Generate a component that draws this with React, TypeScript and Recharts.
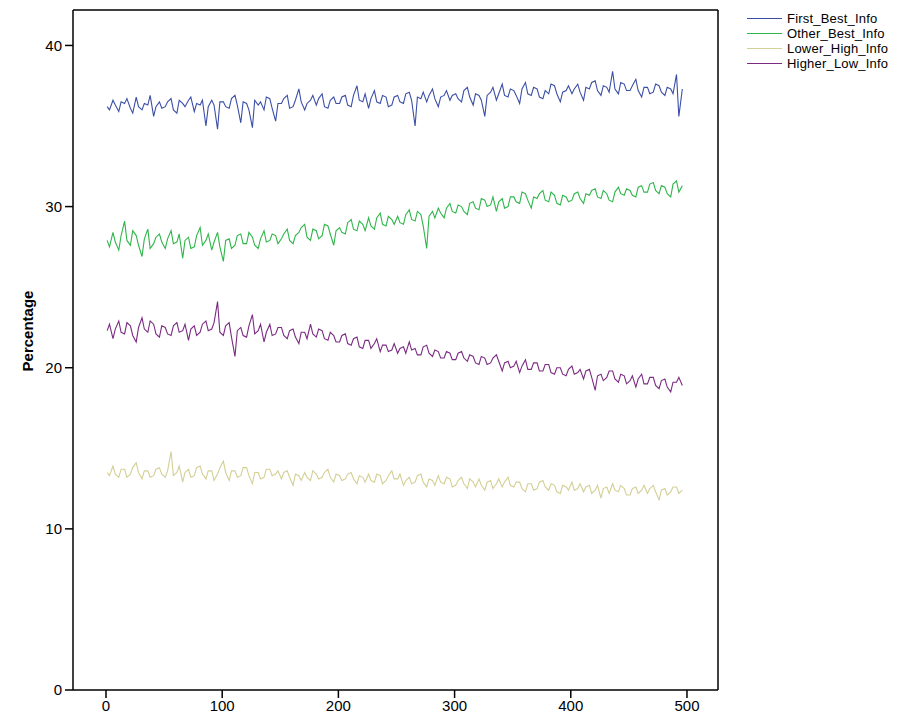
import { LineChart, Line, XAxis, YAxis, Label, ReferenceLine } from "recharts";

// case numbers sampled along the x axis
const cases = [
  1, 3, 6, 8, 11, 13, 16, 18, 21, 23, 26, 28, 31, 33, 36, 38, 41, 43, 46, 48,
  51, 53, 56, 58, 61, 63, 66, 68, 71, 73, 76, 78, 81, 83, 86, 88, 91, 93, 96, 98,
  101, 103, 106, 108, 111, 113, 116, 118, 121, 123, 126, 128, 131, 133, 136, 138, 141, 143, 146, 148,
  151, 153, 156, 158, 161, 163, 166, 168, 171, 173, 176, 178, 181, 183, 186, 188, 191, 193, 196, 198,
  201, 203, 206, 208, 211, 213, 216, 218, 221, 223, 226, 228, 231, 233, 236, 238, 241, 243, 246, 248,
  251, 253, 256, 258, 261, 263, 266, 268, 271, 273, 276, 278, 281, 283, 286, 288, 291, 293, 296, 298,
  301, 303, 306, 308, 311, 313, 316, 318, 321, 323, 326, 328, 331, 333, 336, 338, 341, 343, 346, 348,
  351, 353, 356, 358, 361, 363, 366, 368, 371, 373, 376, 378, 381, 383, 386, 388, 391, 393, 396, 398,
  401, 403, 406, 408, 411, 413, 416, 418, 421, 423, 426, 428, 431, 433, 436, 438, 441, 443, 446, 448,
  451, 453, 456, 458, 461, 463, 466, 468, 471, 473, 476, 478, 481, 483, 486, 488, 491, 493, 496,
];

const firstBest = [
  36.2, 36.0, 36.6, 36.3, 35.9, 36.5, 36.4, 36.7, 36.1, 35.8, 36.8, 36.2, 36.0, 36.4, 36.3, 36.9, 35.6, 36.2, 36.5, 36.1,
  36.2, 36.5, 36.7, 36.0, 35.8, 36.6, 36.4, 36.2, 36.6, 36.8, 35.9, 36.4, 36.3, 36.6, 35.0, 36.2, 36.6, 36.3, 34.8, 36.5,
  36.5, 36.2, 36.1, 36.7, 36.9, 36.3, 35.2, 36.5, 36.4, 36.0, 34.9, 36.6, 36.3, 36.5, 36.0, 36.8, 36.7, 36.1, 35.3, 36.4,
  36.4, 36.7, 36.9, 36.1, 36.2, 36.6, 37.3, 36.5, 36.0, 36.4, 36.6, 36.9, 36.3, 36.7, 37.0, 36.2, 36.1, 36.6, 36.8, 36.4,
  36.4, 36.8, 36.9, 36.3, 36.2, 36.9, 37.5, 36.6, 36.5, 37.0, 36.1, 36.7, 37.2, 36.5, 36.4, 36.9, 36.8, 36.2, 36.3, 36.8,
  36.9, 36.5, 36.4, 37.0, 37.1, 36.6, 35.0, 36.8, 36.7, 37.1, 36.5, 36.9, 37.3, 36.7, 36.2, 36.8, 36.9, 37.2, 36.6, 36.9,
  37.0, 36.7, 36.5, 37.2, 37.4, 36.8, 36.3, 37.0, 36.9, 36.6, 35.6, 36.9, 37.1, 37.4, 36.6, 37.0, 37.6, 36.9, 36.8, 37.3,
  37.2, 36.9, 36.4, 37.3, 37.7, 37.0, 36.9, 37.4, 37.3, 36.8, 36.7, 37.2, 37.0, 37.6, 37.5, 37.0, 36.5, 37.1, 37.2, 37.5,
  37.0, 37.3, 37.6, 37.1, 36.6, 37.4, 37.3, 37.7, 37.8, 37.2, 36.9, 37.5, 37.4, 37.1, 38.4, 37.3, 37.0, 37.7, 37.6, 37.2,
  37.2, 37.5, 37.9, 37.2, 36.8, 37.4, 37.4, 37.0, 37.1, 37.6, 37.5, 37.1, 36.9, 37.4, 37.3, 37.0, 38.2, 35.6, 37.3,
];

const otherBest = [
  27.9, 27.5, 28.4, 27.8, 27.3, 28.2, 29.1, 27.9, 27.6, 28.5, 28.2, 27.6, 26.9, 28.0, 28.6, 27.4, 27.7, 28.1, 28.3, 27.8,
  27.4, 28.0, 28.5, 27.7, 27.8, 28.3, 26.8, 27.9, 28.1, 27.4, 27.5, 28.2, 28.7, 27.6, 27.9, 28.3, 27.3, 27.8, 28.4, 27.5,
  26.6, 27.9, 28.0, 27.4, 27.6, 28.2, 28.3, 27.7, 27.7, 28.4, 28.1, 27.6, 27.4, 28.0, 28.5, 27.8, 27.9, 28.3, 28.2, 27.7,
  28.0, 28.3, 28.6, 27.9, 27.7, 28.2, 28.4, 28.7, 28.9, 28.1, 27.9, 28.6, 28.5, 28.0, 28.2, 28.9, 28.8, 28.3, 27.6, 28.5,
  28.7, 28.4, 28.3, 29.0, 29.2, 28.6, 28.5, 29.1, 28.9, 28.5, 29.3, 28.8, 28.6, 29.3, 29.6, 28.9, 28.8, 29.4, 29.2, 28.9,
  29.4, 29.0, 28.9, 29.5, 29.8, 29.2, 29.1, 29.7, 29.5, 28.8, 27.4, 29.4, 29.7, 29.3, 29.9, 29.6, 29.3, 29.9, 30.2, 29.7,
  29.6, 30.1, 30.0, 29.7, 29.5, 30.2, 30.3, 29.9, 29.8, 30.5, 30.4, 30.0, 30.1, 30.6, 29.7, 30.3, 30.5, 29.9, 30.0, 30.6,
  30.6, 30.3, 30.2, 30.9, 30.8, 30.4, 29.9, 30.6, 30.5, 30.8, 31.0, 30.4, 30.3, 30.9, 30.7, 30.2, 30.1, 30.7, 30.6, 30.3,
  30.4, 30.8, 30.9, 30.5, 30.2, 30.8, 30.7, 31.0, 31.1, 30.6, 30.5, 31.0, 30.8, 30.4, 30.3, 30.9, 31.2, 30.8, 30.7, 31.1,
  31.0, 30.7, 30.6, 31.2, 31.3, 30.9, 30.9, 31.4, 31.5, 31.0, 30.8, 31.3, 31.2, 30.8, 30.6, 31.4, 31.6, 30.9, 31.3,
];

const lowerHigh = [
  13.5, 13.3, 13.9, 13.4, 13.2, 13.7, 13.7, 13.2, 13.4, 13.8, 14.1, 13.5, 13.1, 13.6, 13.6, 13.2, 13.3, 13.7, 13.8, 13.4,
  13.2, 13.6, 14.8, 13.3, 13.5, 13.9, 12.9, 13.5, 13.7, 13.2, 13.3, 13.8, 13.9, 13.4, 13.1, 13.6, 13.6, 13.0, 13.4, 13.8,
  14.2, 13.5, 13.0, 13.6, 13.6, 13.2, 13.3, 13.8, 13.8, 13.3, 12.8, 13.5, 13.5, 13.1, 13.2, 13.7, 13.7, 13.3, 13.4, 13.6,
  13.1, 13.5, 13.6, 13.2, 12.7, 13.4, 13.3, 13.0, 13.5, 13.2, 13.0, 13.6, 13.4, 13.1, 13.2, 13.5, 13.7, 13.2, 12.9, 13.4,
  13.3, 13.0, 13.1, 13.4, 13.5, 13.1, 12.8, 13.3, 13.2, 12.9, 13.4, 13.0, 12.9, 13.4, 13.3, 12.8, 13.0, 13.3, 13.6, 13.1,
  13.1, 13.4, 12.7, 13.0, 13.2, 12.8, 12.9, 13.3, 13.4, 12.9, 12.6, 13.1, 13.0, 12.7, 13.3, 12.9, 12.8, 13.2, 13.1, 12.6,
  12.7, 13.0, 13.2, 12.8, 12.5, 13.1, 12.9, 12.6, 13.1, 12.7, 12.4, 12.9, 13.0, 12.5, 12.8, 13.1, 12.6, 12.9, 13.2, 12.7,
  12.6, 12.9, 12.9, 12.5, 12.3, 12.8, 12.8, 12.4, 12.5, 12.9, 13.0, 12.6, 12.4, 12.8, 12.7, 12.3, 12.2, 12.7, 12.6, 12.4,
  12.9, 12.4, 12.5, 12.8, 12.3, 12.6, 12.7, 12.2, 12.4, 12.7, 11.9, 12.5, 12.6, 12.2, 12.8, 12.4, 12.3, 12.7, 12.5, 12.1,
  12.1, 12.5, 12.6, 12.2, 12.4, 12.7, 12.2, 12.5, 12.7, 12.3, 11.8, 12.4, 12.5, 12.1, 12.3, 12.6, 12.6, 12.2, 12.4,
];

const higherLow = [
  22.3, 22.7, 21.8, 22.4, 22.9, 22.2, 22.1, 22.8, 22.6, 22.0, 21.6, 22.5, 23.1, 22.4, 22.2, 22.9, 22.7, 22.1, 21.9, 22.6,
  22.5, 22.1, 22.0, 22.6, 22.8, 22.2, 22.3, 22.7, 21.7, 22.4, 22.6, 22.0, 22.2, 22.7, 22.9, 22.3, 22.4, 22.8, 24.1, 22.2,
  22.0, 22.6, 22.8, 21.9, 20.7, 22.3, 22.5, 22.0, 21.9, 22.6, 23.3, 22.1, 22.3, 22.7, 21.6, 22.2, 22.7, 22.0, 22.1, 22.5,
  22.5, 22.0, 21.8, 22.3, 22.4, 21.9, 21.5, 22.2, 22.2, 21.8, 22.7, 22.1, 21.9, 22.4, 22.3, 21.8, 21.7, 22.2, 22.0, 21.6,
  21.6, 22.0, 22.1, 21.5, 21.4, 21.8, 21.9, 21.3, 21.2, 21.7, 21.7, 21.2, 21.5, 21.8, 21.0, 21.4, 21.4, 21.0, 21.1, 21.5,
  20.9, 21.2, 21.3, 20.9, 21.6, 21.1, 21.2, 20.8, 20.8, 21.3, 21.4, 20.9, 20.7, 21.1, 21.0, 20.6, 20.6, 21.0, 20.9, 20.5,
  20.5, 20.9, 21.0, 20.6, 20.4, 20.8, 20.7, 20.3, 20.2, 20.7, 20.6, 20.2, 20.3, 20.6, 20.8, 20.4, 19.8, 20.3, 20.4, 20.0,
  20.1, 20.4, 19.7, 20.1, 20.5, 19.9, 19.9, 20.3, 20.3, 19.8, 19.8, 20.2, 20.2, 19.7, 19.6, 20.0, 20.0, 19.6, 19.5, 19.9,
  20.1, 19.6, 19.7, 19.9, 19.3, 19.8, 19.9, 19.4, 18.6, 19.5, 19.6, 19.2, 19.4, 19.8, 19.8, 19.3, 19.1, 19.6, 19.5, 19.0,
  19.2, 19.5, 18.8, 19.3, 19.6, 19.0, 19.0, 19.4, 19.4, 18.9, 18.7, 19.2, 19.3, 18.8, 18.5, 19.1, 19.1, 19.4, 18.9,
];

const xTicks = [0, 100, 200, 300, 400, 500];
const yTicks = [0, 10, 20, 30, 40];
const xDomain = [-28.4, 526.7];
const yDomain = [0, 42.2];

const series = [
  { key: "First_Best_Info", color: "#3b4fa6" },
  { key: "Other_Best_Info", color: "#2fb64b" },
  { key: "Lower_High_Info", color: "#d3cf95" },
  { key: "Higher_Low_Info", color: "#7b2b82" },
];

const data = cases.map((c, i) => ({
  case: c,
  First_Best_Info: firstBest[i],
  Other_Best_Info: otherBest[i],
  Lower_High_Info: lowerHigh[i],
  Higher_Low_Info: higherLow[i],
}));

const font = "'Liberation Sans', Arial, sans-serif";
const tickStyle = { fontSize: 15, fill: "#000", fontFamily: font };
const axisStroke = { stroke: "#000", strokeWidth: 1.5 };

export default function App() {
  return (
    <div
      style={{
        position: "absolute",
        left: 0,
        top: 0,
        width: 915,
        height: 718,
        background: "#fff",
        fontFamily: font,
      }}
    >
      <LineChart
        width={915}
        height={718}
        data={data}
        margin={{ top: 10, right: 197, left: 0, bottom: 0 }}
      >
        <XAxis
          dataKey="case"
          type="number"
          domain={xDomain}
          allowDataOverflow
          ticks={xTicks}
          height={28}
          tickSize={8}
          tickMargin={2}
          tick={tickStyle}
          axisLine={axisStroke}
          tickLine={axisStroke}
        />
        <YAxis
          type="number"
          domain={yDomain}
          allowDataOverflow
          ticks={yTicks}
          width={73}
          tickSize={8}
          tickMargin={3}
          tick={tickStyle}
          axisLine={axisStroke}
          tickLine={axisStroke}
        >
          <Label
            value="Percentage"
            angle={-90}
            position="center"
            dx={-9}
            dy={-19}
            style={{ fontSize: 15, fontWeight: "bold", fill: "#000", fontFamily: font }}
          />
        </YAxis>
        {/* frame: top and right edges */}
        <ReferenceLine y={yDomain[1]} stroke="#000" strokeWidth={1.5} ifOverflow="visible" />
        <ReferenceLine x={xDomain[1]} stroke="#000" strokeWidth={1.5} ifOverflow="visible" />
        {series.map((s) => (
          <Line
            key={s.key}
            dataKey={s.key}
            type="linear"
            stroke={s.color}
            strokeWidth={1.1}
            dot={false}
            isAnimationActive={false}
          />
        ))}
      </LineChart>
      <div style={{ position: "absolute", left: 747, top: 11 }}>
        {series.map((s) => (
          <div
            key={s.key}
            style={{ display: "flex", alignItems: "center", height: 15 }}
          >
            <div style={{ width: 35, height: 1.5, background: s.color, marginRight: 5 }} />
            <span style={{ fontSize: 13, letterSpacing: 0.2, color: "#000" }}>{s.key}</span>
          </div>
        ))}
      </div>
    </div>
  );
}
